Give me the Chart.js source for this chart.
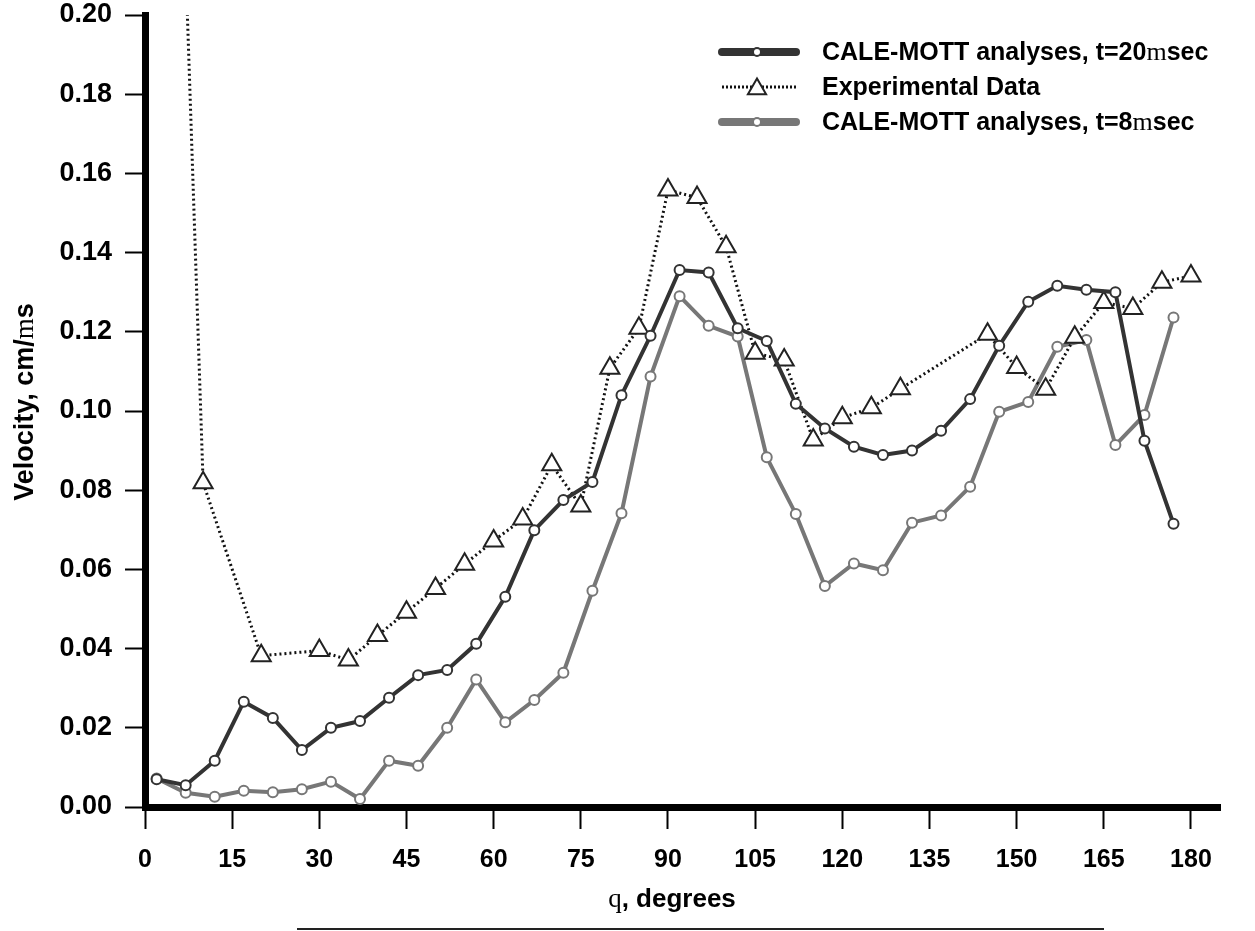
<!DOCTYPE html>
<html>
<head>
<meta charset="utf-8">
<script src="https://cdn.jsdelivr.net/npm/chart.js@4.4.1/dist/chart.umd.min.js"></script>
<style>
    body { margin: 0; background: #fff; }
    canvas { display: block; }
</style>
</head>
<body>
<canvas id="velocity-chart" width="1255" height="931"></canvas>
<script>
// angles (degrees) of the two CALE-MOTT runs
const caleAngles = [2, 7, 12, 17, 22, 27, 32, 37, 42, 47, 52, 57, 62, 67, 72, 77, 82, 87,
    92, 97, 102, 107, 112, 117, 122, 127, 132, 137, 142, 147, 152, 157, 162, 167, 172, 177];

const cale20 = [0.0070, 0.0055, 0.0117, 0.0266, 0.0225, 0.0144, 0.0200, 0.0217, 0.0276, 0.0333,
    0.0346, 0.0412, 0.0531, 0.0699, 0.0775, 0.0821, 0.1040, 0.1190, 0.1356, 0.1350,
    0.1209, 0.1177, 0.1018, 0.0956, 0.0910, 0.0889, 0.0900, 0.0950, 0.1030, 0.1165,
    0.1276, 0.1316, 0.1306, 0.1300, 0.0925, 0.0715];

const cale8 = [0.0072, 0.0036, 0.0026, 0.0041, 0.0037, 0.0045, 0.0064, 0.0020, 0.0117, 0.0104,
    0.0200, 0.0322, 0.0214, 0.0270, 0.0339, 0.0546, 0.0742, 0.1087, 0.1290, 0.1215,
    0.1188, 0.0883, 0.0740, 0.0558, 0.0615, 0.0598, 0.0718, 0.0736, 0.0809, 0.0998,
    0.1023, 0.1162, 0.1179, 0.0914, 0.0990, 0.1236];

const expAngles = [5, 10, 20, 30, 35, 40, 45, 50, 55, 60, 65, 70, 75, 80, 85, 90, 95, 100,
    105, 110, 115, 120, 125, 130, 145, 150, 155, 160, 165, 170, 175, 180];

const expVelocity = [0.300, 0.0819, 0.0382, 0.0395, 0.0371, 0.0433, 0.0492, 0.0552, 0.0613, 0.0672,
    0.0727, 0.0864, 0.0760, 0.1108, 0.1209, 0.1558, 0.1539, 0.1415, 0.1146, 0.1129,
    0.0927, 0.0983, 0.1008, 0.1056, 0.1194, 0.1110, 0.1055, 0.1186, 0.1274, 0.1259,
    0.1325, 0.1341];

const xTickStep = 15;
const yTickStep = 0.02;

const SANS = '"Liberation Sans", Arial, sans-serif';
const SERIF = '"Liberation Serif", "Times New Roman", serif';
const DARK = "#333333";
const GREY = "#777777";

function toPoints(xs, ys) {
    return xs.map((x, i) => ({ x: x, y: ys[i] }));
}

// draws a run of text pieces, some of them in the serif (symbol) face
function drawPieces(ctx, pieces, x, y, align) {
    let total = 0;
    pieces.forEach(p => { ctx.font = p.font; total += ctx.measureText(p.text).width; });
    let cx = align === "center" ? x - total / 2 : x;
    ctx.textAlign = "left";
    ctx.textBaseline = "middle";
    pieces.forEach(p => {
        ctx.font = p.font;
        ctx.fillText(p.text, cx, y);
        cx += ctx.measureText(p.text).width;
    });
}

const extras = {
    id: "extras",
    afterDraw(chart) {
        const ctx = chart.ctx;
        ctx.save();
        ctx.fillStyle = "#000";

        // y title
        ctx.save();
        ctx.translate(26, 402);
        ctx.rotate(-Math.PI / 2);
        drawPieces(ctx, [
            { text: "Velocity, cm/", font: "bold 27px " + SANS },
            { text: "m", font: "27px " + SERIF },
            { text: "s", font: "bold 27px " + SANS }
        ], 0, 0, "center");
        ctx.restore();

        // x title and the line under it
        drawPieces(ctx, [
            { text: "q", font: "27px " + SERIF },
            { text: ", degrees", font: "bold 26px " + SANS }
        ], 672, 900, "center");
        ctx.strokeStyle = "#222";
        ctx.lineWidth = 2;
        ctx.beginPath();
        ctx.moveTo(297, 929);
        ctx.lineTo(1104, 929);
        ctx.stroke();

        // legend
        const rows = [
            { y: 52, color: DARK, width: 8, dash: [], point: "circle", label: "t=20" },
            { y: 87, color: "#111", width: 3, dash: [2, 2], point: "triangle", label: null },
            { y: 122, color: GREY, width: 8, dash: [], point: "circle", label: "t=8" }
        ];
        rows.forEach(r => {
            ctx.strokeStyle = r.color;
            ctx.lineWidth = r.width;
            ctx.lineCap = r.dash.length ? "butt" : "round";
            ctx.setLineDash(r.dash);
            ctx.beginPath();
            ctx.moveTo(722, r.y);
            ctx.lineTo(796, r.y);
            ctx.stroke();
            ctx.setLineDash([]);
            ctx.fillStyle = "#fff";
            ctx.lineWidth = 2;
            ctx.strokeStyle = r.point === "triangle" ? "#222" : r.color;
            Chart.helpers.drawPoint(ctx, {
                pointStyle: r.point,
                radius: r.point === "triangle" ? 10.5 : 4,
                rotation: 0,
                borderWidth: 2
            }, 757, r.point === "triangle" ? r.y + 2 : r.y);
            ctx.fillStyle = "#000";
            if (r.label) {
                drawPieces(ctx, [
                    { text: "CALE-MOTT analyses, " + r.label, font: "bold 25px " + SANS },
                    { text: "m", font: "26px " + SERIF },
                    { text: "sec", font: "bold 25px " + SANS }
                ], 822, r.y + 1, "left");
            } else {
                drawPieces(ctx, [{ text: "Experimental Data", font: "bold 25px " + SANS }], 822, r.y + 1, "left");
            }
        });
        ctx.restore();
    }
};

const velocityChart = new Chart(
    document.getElementById("velocity-chart"),
    {
        type: "line",
        data: {
            datasets: [
                {
                    label: "CALE-MOTT analyses, t=20msec",
                    data: toPoints(caleAngles, cale20),
                    borderColor: DARK,
                    borderWidth: 4,
                    pointStyle: "circle",
                    pointRadius: 5,
                    pointBorderWidth: 2,
                    pointBorderColor: DARK,
                    pointBackgroundColor: "#fff",
                    tension: 0
                },
                {
                    label: "Experimental Data",
                    data: toPoints(expAngles, expVelocity),
                    borderColor: "#111",
                    borderWidth: 3,
                    borderDash: [2, 3],
                    pointStyle: "triangle",
                    pointRadius: 11,
                    pointBorderWidth: 2,
                    pointBorderColor: "#222",
                    pointBackgroundColor: "#fff",
                    tension: 0
                },
                {
                    label: "CALE-MOTT analyses, t=8msec",
                    data: toPoints(caleAngles, cale8),
                    borderColor: GREY,
                    borderWidth: 4,
                    pointStyle: "circle",
                    pointRadius: 5,
                    pointBorderWidth: 2,
                    pointBorderColor: GREY,
                    pointBackgroundColor: "#fff",
                    tension: 0
                }
            ]
        },
        options: {
            responsive: false,
            animation: false,
            layout: {
                padding: { top: 15, right: 35, left: 0, bottom: 0 }
            },
            scales: {
                x: {
                    type: "linear",
                    position: "bottom",
                    min: 0,
                    max: 185,
                    afterFit: scale => {
                        scale.height = 124;
                        scale.paddingLeft = 0;
                        scale.paddingRight = 0;
                    },
                    ticks: {
                        stepSize: xTickStep,
                        includeBounds: false,
                        autoSkip: false,
                        maxRotation: 0,
                        padding: 16,
                        color: "#000",
                        font: { family: SANS, size: 25, weight: "bold" }
                    },
                    grid: {
                        drawOnChartArea: false,
                        drawTicks: true,
                        tickLength: 22,
                        tickWidth: 2,
                        tickColor: "#000"
                    },
                    border: { display: true, width: 7, color: "#000" }
                },
                y: {
                    min: 0,
                    max: 0.2,
                    afterFit: scale => {
                        scale.width = 145;
                        scale.paddingTop = 0;
                        scale.paddingBottom = 0;
                    },
                    ticks: {
                        stepSize: yTickStep,
                        padding: 13,
                        color: "#000",
                        font: { family: SANS, size: 27, weight: "bold" },
                        callback: value => value.toFixed(2)
                    },
                    grid: {
                        drawOnChartArea: false,
                        drawTicks: true,
                        tickLength: 20,
                        tickWidth: 2,
                        tickColor: "#000"
                    },
                    border: { display: true, width: 7, color: "#000" }
                }
            },
            plugins: {
                legend: { display: false },
                tooltip: { enabled: false }
            }
        },
        plugins: [extras]
    }
);
</script>
</body>
</html>
